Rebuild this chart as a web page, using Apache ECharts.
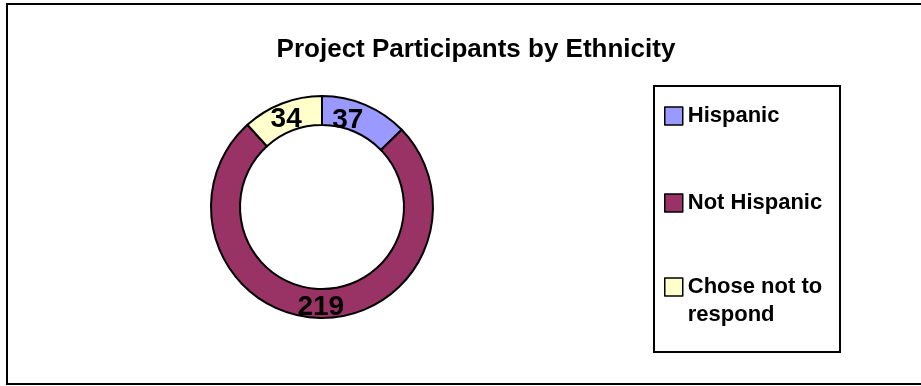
<!DOCTYPE html>
<html>
<head>
<meta charset="utf-8">
<script src="https://cdn.jsdelivr.net/npm/echarts@6/dist/echarts.min.js"></script>
<style>html,body{margin:0;padding:0;background:#fff;}#c{width:921px;height:386px;}</style>
</head>
<body>
<div id="c"></div>
<script>
var titleText = 'Project Participants by Ethnicity';
var categories = ['Hispanic', 'Not Hispanic', 'Chose not to respond'];
var values = [37, 219, 34];
var colors = ['#9999FF', '#993366', '#FFFFCC'];

var chart = echarts.init(document.getElementById('c'), null, {renderer: 'canvas'});
var legendFont = {fontFamily: 'Liberation Sans', fontWeight: 'bold', fontSize: 22, color: '#000', lineHeight: 28};
function mkLegend(name, top, formatter) {
  return {
    data: [name], left: 664, top: top, orient: 'vertical',
    itemWidth: 18, itemHeight: 18, itemGap: 0, padding: 0,
    icon: 'rect', selectedMode: false,
    itemStyle: {borderColor: '#000', borderWidth: 1.5},
    textStyle: legendFont,
    formatter: formatter || function (n) { return n; }
  };
}
chart.setOption({
  animation: false,
  backgroundColor: '#fff',
  title: {
    text: titleText, left: 471, top: 32, textAlign: 'center',
    textStyle: {fontFamily: 'Liberation Sans', fontWeight: 'bold', fontSize: 26, color: '#000'}
  },
  graphic: [
    {type: 'rect', shape: {x: 7, y: 4, width: 920, height: 380}, style: {fill: 'none', stroke: '#000', lineWidth: 2}, silent: true, z: -1},
    {type: 'rect', shape: {x: 654, y: 86, width: 186, height: 266}, style: {fill: 'none', stroke: '#000', lineWidth: 2}, silent: true, z: -1}
  ],
  legend: [
    mkLegend(categories[0], 102),
    mkLegend(categories[1], 189),
    mkLegend(categories[2], 245, function () { return '\nChose not to\nrespond'; })
  ],
  series: [{
    type: 'pie',
    center: [322, 207],
    radius: [82, 111],
    startAngle: 90,
    clockwise: true,
    avoidLabelOverlap: false,
    emphasis: {disabled: true},
    itemStyle: {borderColor: '#000', borderWidth: 2},
    label: {
      show: true, position: 'inside', formatter: '{c}',
      fontFamily: 'Liberation Sans', fontWeight: 'bold', fontSize: 28, color: '#000'
    },
    labelLayout: function (p) {
      if (p.dataIndex === 0) return {dx: -13, dy: 5};
      if (p.dataIndex === 2) return {dx: 0, dy: 5};
      return {dx: 2, dy: 1};
    },
    labelLine: {show: false},
    data: categories.map(function (n, i) {
      return {name: n, value: values[i], itemStyle: {color: colors[i]}};
    })
  }]
});
</script>
</body>
</html>
